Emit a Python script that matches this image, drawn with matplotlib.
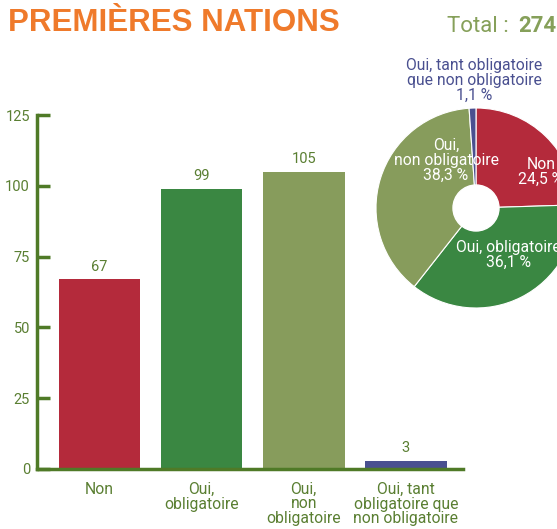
import matplotlib.pyplot as plt

plt.rcParams['font.family'] = ['Roboto', 'DejaVu Sans']

categories = ['Non', 'Oui,\nobligatoire', 'Oui,\nnon\nobligatoire',
              'Oui, tant\nobligatoire que\nnon obligatoire']
counts = [67, 99, 105, 3]
pie_pct = [24.5, 36.1, 38.3, 1.1]
pie_names = ['Non', 'Oui, obligatoire', 'Oui,\nnon obligatoire',
             'Oui, tant obligatoire\nque non obligatoire']
total = 274

colors = ['#b42a3b', '#3a8742', '#879c5c', '#4a5090']
axis_green = '#4f7a27'
text_green = '#5a7f32'

fig = plt.figure(figsize=(5.57, 5.29), dpi=100)

# bar chart
ax = fig.add_axes([37 / 557, 1 - 469 / 529, 426 / 557, 354 / 529])
x = range(len(counts))
ax.bar(x, counts, width=0.8, color=colors)
for i, v in enumerate(counts):
    ax.text(i, v + 2.0, str(v), ha='center', va='bottom', fontsize=10.5, color=text_green)

ax.set_xlim(-0.613, 3.56)
ax.set_ylim(0, 125)
ax.set_yticks([0, 25, 50, 75, 100, 125])
ax.set_xticks(list(x))
ax.set_xticklabels(categories, fontsize=11.3, color=text_green, linespacing=1.0)
ax.tick_params(axis='x', length=0, pad=9)
ax.tick_params(axis='y', direction='in', length=9, width=2.5, color=axis_green,
               labelcolor=text_green, labelsize=10.5, pad=5)
for s in ['top', 'right']:
    ax.spines[s].set_visible(False)
for s in ['left', 'bottom']:
    ax.spines[s].set_color(axis_green)
    ax.spines[s].set_linewidth(2.5)

# donut chart
pax = fig.add_axes([376 / 557, 1 - 308 / 529, 200 / 557, 200 / 529])
pax.pie(pie_pct, colors=colors, startangle=90, counterclock=False, radius=1,
        wedgeprops=dict(linewidth=0.8, edgecolor='white'))
pax.add_patch(plt.Circle((0, 0), 0.23, color='white', zorder=3))
pax.set_xlim(-1, 1)
pax.set_ylim(-1, 1)
pax.set_aspect('equal')
pax.axis('off')

def pct(v):
    return f'{v:.1f}'.replace('.', ',') + ' %'

pax.text(0.65, 0.36, pie_names[0] + '\n' + pct(pie_pct[0]), ha='center', va='center',
         color='white', fontsize=11.3, linespacing=1.0, clip_on=False)
pax.text(0.32, -0.47, pie_names[1] + '\n' + pct(pie_pct[1]), ha='center', va='center',
         color='white', fontsize=11.3, linespacing=1.0, clip_on=False)
pax.text(-0.3, 0.48, pie_names[2] + '\n' + pct(pie_pct[2]), ha='center', va='center',
         color='white', fontsize=11.3, linespacing=1.0, clip_on=False)
pax.text(-0.02, 1.28, pie_names[3] + '\n' + pct(pie_pct[3]), ha='center', va='center',
         color=colors[3], fontsize=11.3, linespacing=1.0, clip_on=False)

# titles
fig.text(8 / 557, 1 - 23 / 529, 'PREMIÈRES NATIONS', ha='left', va='center',
         fontsize=22.5, fontweight='bold', color='#ef7a2b', family='Liberation Sans')
fig.text(556 / 557, 1 - 26 / 529, str(total), ha='right', va='center',
         fontsize=16, fontweight='bold', color='#86a05a')
fig.text(514 / 557, 1 - 26 / 529, 'Total : ', ha='right', va='center',
         fontsize=16, color='#86a05a')

fig.savefig('out.png', dpi=100)
